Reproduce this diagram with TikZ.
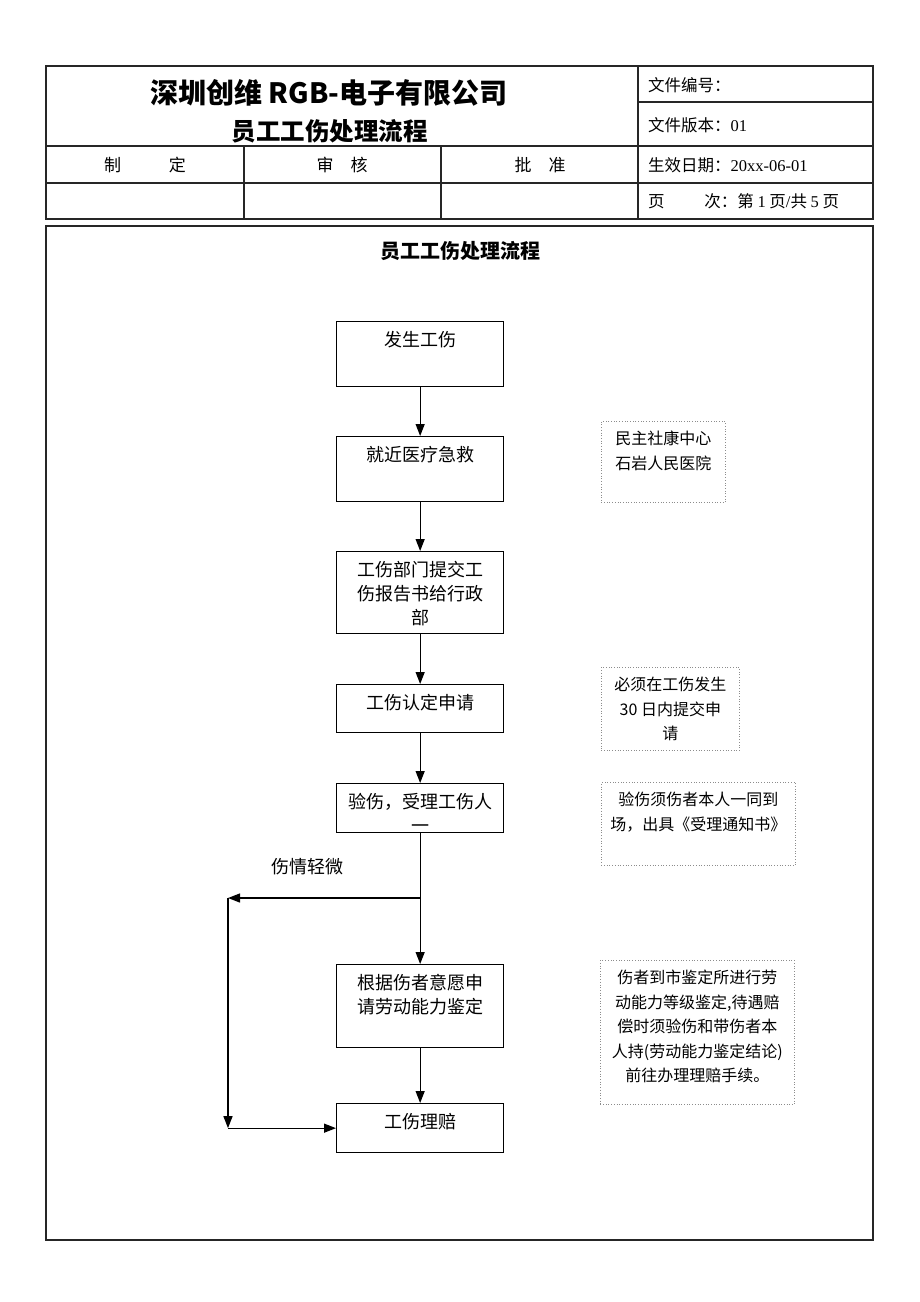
\documentclass[tikz,border=0pt]{standalone}
\usepackage{fontspec}
\setmainfont{Noto Sans CJK SC}
\newfontfamily\serifnum{Liberation Serif}
\usetikzlibrary{arrows.meta}

\tikzset{
  frameline/.style={draw=black!85, line width=1.1pt},
  flowbox/.style={draw, line width=1.3pt, inner sep=0pt, anchor=north west},
  notebox/.style={draw=black!45, dotted, line width=0.7pt, inner sep=0pt, anchor=north west},
  flowarrow/.style={draw, line width=1.3pt, -{Triangle[length=12pt,width=9pt]}},
  headtext/.style={font=\fontsize{17pt}{20pt}\selectfont, inner sep=0pt},
  infotext/.style={font=\fontsize{16.5pt}{20pt}\selectfont, anchor=west, inner sep=0pt},
}
\newcommand\flowtext[3]{\parbox[t][#2pt][t]{#1pt}{\centering\fontsize{18pt}{24pt}\selectfont\vspace*{10pt}#3\par}}
\newcommand\notetext[3]{\parbox[t][#2pt][t]{#1pt}{\centering\fontsize{16pt}{24.5pt}\selectfont\vspace*{10pt}#3\par}}

\begin{document}
\begin{tikzpicture}[x=1pt,y=-1pt]
\useasboundingbox[fill=white] (0,0) rectangle (920,1302);

% header table
\draw[frameline] (46,66) rectangle (873,219);
\draw[frameline] (638,66) -- (638,219);
\draw[frameline] (638,102) -- (873,102);
\draw[frameline] (46,146) -- (873,146);
\draw[frameline] (46,183) -- (873,183);
\draw[frameline] (244,146) -- (244,219);
\draw[frameline] (441,146) -- (441,219);

\node[inner sep=0pt, font=\bfseries\fontsize{28pt}{30pt}\selectfont] (company) at (329,93) {深圳创维 RGB-电子有限公司};
\node[inner sep=0pt, font=\bfseries\fontsize{24.5pt}{26pt}\selectfont] (doctitle) at (329.5,131) {员工工伤处理流程};
\node[infotext] (docno) at (648,85) {文件编号：};
\node[infotext] (docver) at (648,125) {文件版本：{\serifnum 01}};
\node[infotext] (docdate) at (648,165) {生效日期：{\serifnum 20xx-06-01}};
\node[infotext] (docpage) at (648,201) {页\hspace{2.4em}次：第 {\serifnum 1} 页{\serifnum /}共 {\serifnum 5} 页};
\node[headtext] (made) at (145,165) {制\hspace{2.8em}定};
\node[headtext] (checked) at (342,165) {审\quad 核};
\node[headtext] (approved) at (540,165) {批\quad 准};

% main frame
\draw[frameline] (46,226) rectangle (873,1240);
\node[inner sep=0pt, font=\bfseries\fontsize{20pt}{22pt}\selectfont] (flowtitle) at (460,251) {员工工伤处理流程};

% flow steps
\node[flowbox] (injury) at (336,321) {\flowtext{167}{65}{发生工伤}};
\node[flowbox] (firstaid) at (336,436) {\flowtext{167}{65}{就近医疗急救}};
\node[flowbox] (report) at (336,551) {\flowtext{167}{82}{工伤部门提交工\\伤报告书给行政\\部}};
\node[flowbox] (apply) at (336,684) {\flowtext{167}{48}{工伤认定申请}};
\node[flowbox] (inspect) at (336,783) {\flowtext{167}{49}{验伤，受理工伤人\\一}};
\node[flowbox] (assess) at (336,964) {\flowtext{167}{83}{根据伤者意愿申\\请劳动能力鉴定}};
\node[flowbox] (claim) at (336,1103) {\flowtext{167}{49}{工伤理赔}};

% side notes
\node[notebox] (hospital) at (601,421) {\notetext{124}{81}{民主社康中心\\石岩人民医院}};
\node[notebox] (deadline) at (601,667) {\notetext{138}{83}{必须在工伤发生\\30 日内提交申\\请}};
\node[notebox] (notice) at (601,782) {\notetext{194}{83}{验伤须伤者本人一同到\\场，出具《受理通知书》}};
\node[notebox] (grade) at (600,960) {\notetext{194}{144}{伤者到市鉴定所进行劳\\动能力等级鉴定,待遇赔\\偿时须验伤和带伤者本\\人持(劳动能力鉴定结论)\\前往办理理赔手续。}};

% connectors
\draw[flowarrow] (injury) -- (firstaid);
\draw[flowarrow] (firstaid) -- (report);
\draw[flowarrow] (report) -- (apply);
\draw[flowarrow] (apply) -- (inspect);
\draw[flowarrow] (inspect) -- (assess);
\draw[flowarrow] (assess) -- (claim);

\coordinate (split) at (inspect.south |- 0,898);
\coordinate (leftTop) at (228,898);
\coordinate (leftBot) at (claim.west -| leftTop);
\draw[flowarrow] (split) -- (leftTop);
\draw[flowarrow] (leftTop) -- (leftBot);
\draw[flowarrow] (leftBot) -- (claim.west);
\node[inner sep=0pt, font=\fontsize{18pt}{20pt}\selectfont] (minor) at (307,867) {伤情轻微};
\end{tikzpicture}
\end{document}
